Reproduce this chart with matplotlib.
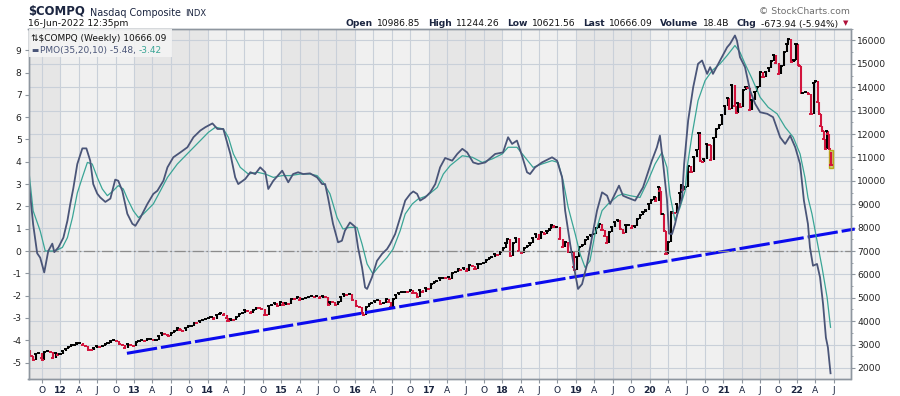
import matplotlib
matplotlib.use('Agg')
import matplotlib.pyplot as plt
from matplotlib.patches import Rectangle
from matplotlib.text import Annotation
from matplotlib.ticker import MultipleLocator
import pandas as pd

plt.rcParams['font.family'] = 'DejaVu Sans'
plt.rcParams['axes.unicode_minus'] = False

# ---- data ----
# weekly-ish closes of $COMPQ (right axis)
price_dates = [
    '2011-07-29', '2011-08-05', '2011-08-12', '2011-08-19', '2011-08-31', '2011-09-16', '2011-09-30', '2011-10-03',
    '2011-10-14', '2011-10-28', '2011-11-11', '2011-11-25', '2011-12-09', '2011-12-16', '2011-12-30',
    '2012-01-13', '2012-01-27', '2012-02-10', '2012-02-24', '2012-03-09', '2012-03-23', '2012-04-05', '2012-04-20',
    '2012-05-04', '2012-05-18', '2012-06-01', '2012-06-15', '2012-06-29', '2012-07-13', '2012-07-27', '2012-08-10',
    '2012-08-24', '2012-09-07', '2012-09-21', '2012-10-05', '2012-10-19', '2012-11-02', '2012-11-16', '2012-11-30',
    '2012-12-14', '2012-12-28',
    '2013-01-11', '2013-01-25', '2013-02-08', '2013-02-22', '2013-03-08', '2013-03-22', '2013-04-05', '2013-04-19',
    '2013-05-03', '2013-05-17', '2013-05-31', '2013-06-14', '2013-06-21', '2013-07-05', '2013-07-19', '2013-08-02',
    '2013-08-16', '2013-08-30', '2013-09-13', '2013-09-27', '2013-10-11', '2013-10-25', '2013-11-08', '2013-11-22',
    '2013-12-06', '2013-12-20',
    '2014-01-03', '2014-01-17', '2014-01-31', '2014-02-14', '2014-02-28', '2014-03-07', '2014-03-21', '2014-04-04',
    '2014-04-11', '2014-04-25', '2014-05-09', '2014-05-23', '2014-06-06', '2014-06-20', '2014-07-03', '2014-07-18',
    '2014-08-01', '2014-08-15', '2014-08-29', '2014-09-12', '2014-09-26', '2014-10-10', '2014-10-17', '2014-10-31',
    '2014-11-14', '2014-11-28', '2014-12-12', '2014-12-26',
    '2015-01-09', '2015-01-23', '2015-02-06', '2015-02-20', '2015-03-06', '2015-03-20', '2015-04-02', '2015-04-17',
    '2015-05-01', '2015-05-15', '2015-05-29', '2015-06-12', '2015-06-26', '2015-07-10', '2015-07-24', '2015-08-07',
    '2015-08-21', '2015-08-28', '2015-09-11', '2015-09-25', '2015-10-09', '2015-10-23', '2015-11-06', '2015-11-20',
    '2015-12-04', '2015-12-18',
    '2016-01-08', '2016-01-22', '2016-02-05', '2016-02-11', '2016-02-26', '2016-03-11', '2016-03-24', '2016-04-08',
    '2016-04-22', '2016-05-06', '2016-05-20', '2016-06-03', '2016-06-17', '2016-06-27', '2016-07-08', '2016-07-22',
    '2016-08-05', '2016-08-19', '2016-09-02', '2016-09-16', '2016-09-30', '2016-10-14', '2016-10-28', '2016-11-04',
    '2016-11-18', '2016-12-02', '2016-12-16', '2016-12-30',
    '2017-01-13', '2017-01-27', '2017-02-10', '2017-02-24', '2017-03-10', '2017-03-24', '2017-04-07', '2017-04-13',
    '2017-04-28', '2017-05-12', '2017-05-26', '2017-06-09', '2017-06-23', '2017-07-07', '2017-07-21', '2017-08-04',
    '2017-08-18', '2017-09-01', '2017-09-15', '2017-09-29', '2017-10-13', '2017-10-27', '2017-11-10', '2017-11-24',
    '2017-12-08', '2017-12-22',
    '2018-01-05', '2018-01-19', '2018-01-26', '2018-02-08', '2018-02-23', '2018-03-09', '2018-03-23', '2018-04-06',
    '2018-04-20', '2018-05-04', '2018-05-18', '2018-06-01', '2018-06-15', '2018-06-29', '2018-07-13', '2018-07-27',
    '2018-08-10', '2018-08-24', '2018-08-31', '2018-09-14', '2018-09-28', '2018-10-12', '2018-10-26', '2018-11-09',
    '2018-11-23', '2018-12-07', '2018-12-21', '2018-12-24',
    '2019-01-04', '2019-01-18', '2019-02-01', '2019-02-15', '2019-03-01', '2019-03-15', '2019-03-29', '2019-04-12',
    '2019-04-26', '2019-05-10', '2019-05-24', '2019-06-03', '2019-06-14', '2019-06-28', '2019-07-12', '2019-07-26',
    '2019-08-09', '2019-08-23', '2019-09-06', '2019-09-20', '2019-10-04', '2019-10-18', '2019-11-01', '2019-11-15',
    '2019-11-29', '2019-12-13', '2019-12-27',
    '2020-01-10', '2020-01-24', '2020-01-31', '2020-02-14', '2020-02-21', '2020-02-28', '2020-03-06', '2020-03-13',
    '2020-03-20', '2020-03-23', '2020-04-03', '2020-04-17', '2020-05-01', '2020-05-15', '2020-05-29', '2020-06-05',
    '2020-06-12', '2020-06-26', '2020-07-10', '2020-07-24', '2020-08-07', '2020-08-21', '2020-09-02', '2020-09-08',
    '2020-09-18', '2020-09-25', '2020-10-09', '2020-10-23', '2020-10-30', '2020-11-13', '2020-11-27', '2020-12-11',
    '2020-12-24',
    '2021-01-08', '2021-01-22', '2021-01-29', '2021-02-12', '2021-02-26', '2021-03-05', '2021-03-12', '2021-03-26',
    '2021-04-09', '2021-04-23', '2021-04-30', '2021-05-12', '2021-05-21', '2021-06-04', '2021-06-18', '2021-07-02',
    '2021-07-16', '2021-07-30', '2021-08-13', '2021-08-27', '2021-09-07', '2021-09-17', '2021-10-01', '2021-10-15',
    '2021-10-29', '2021-11-12', '2021-11-19', '2021-12-03', '2021-12-17', '2021-12-27',
    '2022-01-07', '2022-01-14', '2022-01-21', '2022-01-28', '2022-02-11', '2022-02-25', '2022-03-11', '2022-03-25',
    '2022-04-01', '2022-04-14', '2022-04-22', '2022-04-29', '2022-05-06', '2022-05-13', '2022-05-20', '2022-05-27',
    '2022-06-03', '2022-06-10',
]
price_close = [
    2756, 2532, 2508, 2342, 2579, 2622, 2415, 2335, 2668, 2737, 2678, 2441, 2646, 2555, 2605,
    2710, 2816, 2904, 2963, 2988, 3068, 3080, 3000, 2956, 2779, 2747, 2872, 2935, 2908, 2958, 3020,
    3069, 3136, 3180, 3136, 3005, 2982, 2853, 3010, 2971, 2960,
    3125, 3150, 3193, 3161, 3245, 3245, 3204, 3206, 3378, 3498, 3456, 3423, 3357, 3479, 3588, 3690,
    3602, 3590, 3722, 3781, 3792, 3943, 3919, 3992, 4062, 4104,
    4131, 4197, 4104, 4244, 4308, 4336, 4276, 4128, 3999, 4076, 4071, 4185, 4321, 4368, 4486, 4432,
    4352, 4464, 4580, 4567, 4512, 4276, 4258, 4631, 4688, 4792, 4653, 4807,
    4704, 4758, 4745, 4956, 4927, 5026, 4886, 4932, 5005, 5048, 5070, 5052, 5080, 4998, 5089, 5044,
    4706, 4828, 4822, 4687, 4830, 5032, 5147, 5105, 5142, 4923,
    4643, 4592, 4363, 4267, 4590, 4749, 4774, 4850, 4906, 4737, 4770, 4943, 4800, 4594, 4956, 5100,
    5221, 5238, 5250, 5245, 5312, 5214, 5190, 5046, 5322, 5256, 5437, 5383,
    5574, 5661, 5735, 5845, 5861, 5828, 5878, 5805, 6048, 6121, 6210, 6208, 6265, 6153, 6388, 6352,
    6217, 6435, 6448, 6496, 6606, 6701, 6751, 6889, 6840, 6959,
    7136, 7336, 7506, 6777, 7337, 7560, 6993, 6915, 7146, 7209, 7354, 7554, 7746, 7510, 7826, 7737,
    7839, 7946, 8110, 8010, 8046, 7497, 7167, 7406, 6939, 6969, 6333, 6193,
    6739, 7157, 7264, 7472, 7595, 7688, 7729, 7984, 8146, 7917, 7637, 7333, 7797, 8006, 8244, 8330,
    7959, 7752, 8103, 8118, 7982, 8089, 8386, 8541, 8665, 8735, 9007,
    9179, 9315, 9151, 9731, 9577, 8567, 8576, 7875, 6880, 6861, 7374, 8650, 8605, 9015, 9490, 9815,
    9589, 9757, 10617, 10363, 11011, 11312, 12056, 10848, 10793, 10914, 11580, 11548, 10912, 11829, 12206, 12378,
    12805,
    13202, 13543, 13070, 14095, 13192, 12920, 13320, 13139, 13900, 14017, 13962, 13032, 13471, 13814, 14030, 14639,
    14428, 14673, 14823, 15129, 15374, 15044, 14567, 14897, 15498, 15860, 16057, 15085, 15170, 15871,
    14936, 14894, 13768, 13770, 13791, 13694, 12843, 14169, 14262, 13351, 12839, 12335, 12145, 11805, 11354, 12131,
    12013, 11340,
]

# current (last) weekly bar from the header
last_date = '2022-06-16'
last_open, last_high, last_low, last_close = 10986.85, 11244.26, 10621.56, 10666.09

# PMO(35,20,10) line and its signal line (left axis)
pmo_dates = [
    '2011-07-30', '2011-08-19', '2011-09-08', '2011-09-23', '2011-10-13', '2011-11-02', '2011-11-22', '2011-12-02', '2011-12-22',
    '2012-01-16', '2012-02-05', '2012-02-19', '2012-03-05', '2012-03-25', '2012-04-19', '2012-05-09', '2012-05-28', '2012-06-12',
    '2012-07-02', '2012-07-17', '2012-08-11', '2012-09-05', '2012-09-29', '2012-10-14', '2012-11-03', '2012-11-28', '2012-12-23',
    '2013-01-07', '2013-02-01', '2013-03-07', '2013-04-06', '2013-04-26', '2013-05-26', '2013-06-15', '2013-07-14', '2013-08-18',
    '2013-09-22', '2013-10-22', '2013-11-25', '2013-12-20',
    '2014-01-24', '2014-02-18', '2014-03-19', '2014-04-23', '2014-05-17', '2014-06-01', '2014-07-06', '2014-07-31', '2014-08-24',
    '2014-09-18', '2014-10-13', '2014-10-28', '2014-11-22',
    '2015-01-05', '2015-02-04', '2015-02-28', '2015-03-25', '2015-04-19', '2015-05-23', '2015-06-27', '2015-07-22', '2015-08-06',
    '2015-08-20', '2015-09-14', '2015-10-09', '2015-10-28', '2015-11-12', '2015-12-07',
    '2016-01-01', '2016-01-16', '2016-02-05', '2016-02-20', '2016-03-01', '2016-03-25', '2016-04-19', '2016-05-14', '2016-06-08',
    '2016-06-23', '2016-07-18', '2016-08-12', '2016-09-06', '2016-10-01', '2016-10-16', '2016-11-04', '2016-11-19', '2016-12-14',
    '2017-01-08', '2017-02-02', '2017-02-26', '2017-03-23', '2017-04-27', '2017-05-22', '2017-06-16', '2017-07-10', '2017-08-09',
    '2017-09-03', '2017-10-08', '2017-11-26',
    '2018-01-04', '2018-01-29', '2018-02-18', '2018-03-14', '2018-04-08', '2018-05-03', '2018-05-18', '2018-06-12', '2018-07-16',
    '2018-09-04', '2018-09-29', '2018-10-24', '2018-11-08', '2018-12-03', '2018-12-28',
    '2019-01-11', '2019-01-31', '2019-02-25', '2019-03-21', '2019-04-15', '2019-05-10', '2019-06-04', '2019-06-19', '2019-07-13',
    '2019-08-02', '2019-08-22', '2019-09-11', '2019-10-21', '2019-11-29',
    '2020-01-12', '2020-02-06', '2020-02-21', '2020-03-07', '2020-03-27', '2020-04-06', '2020-04-21', '2020-05-06', '2020-05-21',
    '2020-06-10', '2020-06-20', '2020-07-10', '2020-08-04', '2020-08-28', '2020-09-17', '2020-10-12', '2020-10-27', '2020-11-10',
    '2020-12-15',
    '2021-01-19', '2021-02-03', '2021-02-27', '2021-03-09', '2021-03-24', '2021-04-18', '2021-05-13', '2021-06-07', '2021-07-02',
    '2021-08-06', '2021-09-04', '2021-10-09', '2021-11-03', '2021-11-28', '2021-12-23',
    '2022-01-16', '2022-02-04', '2022-02-24', '2022-03-06', '2022-03-21', '2022-04-10', '2022-04-25', '2022-05-10', '2022-05-24',
    '2022-06-03', '2022-06-16',
]
pmo_vals = [
    3.0, 1.2, -0.1, -0.3, -0.96, 0.0, 0.33, -0.05, 0.16,
    0.6, 1.36, 2.1, 2.8, 3.9, 4.6, 4.6, 4.05, 3.0,
    2.57, 2.4, 2.2, 2.35, 3.2, 3.15, 2.7, 1.67, 1.22,
    1.13, 1.5, 2.1, 2.56, 2.7, 3.15, 3.75, 4.2, 4.42,
    4.65, 5.1, 5.4, 5.55,
    5.72, 5.47, 5.47, 4.35, 3.3, 3.0, 3.23, 3.53, 3.45,
    3.75, 3.53, 2.78, 3.15,
    3.6, 3.08, 3.45, 3.53, 3.45, 3.48, 3.3, 3.0, 3.0,
    2.4, 1.22, 0.39, 0.46, 0.91, 1.28,
    1.09, 0.16, -0.74, -1.63, -1.7, -1.18, -0.44, -0.13, 0.09,
    0.31, 0.76, 1.5, 2.26, 2.56, 2.67, 2.56, 2.26, 2.4,
    2.63, 3.0, 3.75, 4.17, 4.05, 4.35, 4.58, 4.42, 3.97,
    3.9, 3.97, 4.35,
    4.42, 5.1, 4.8, 4.95, 4.27, 3.53, 3.45, 3.75, 3.97,
    4.2, 4.05, 3.3, 1.81, 0.31, -1.03,
    -1.7, -1.48, -0.58, 0.61, 1.81, 2.63, 2.48, 2.11, 2.56,
    2.93, 2.48, 2.4, 2.26, 2.85,
    4.05, 4.65, 5.17, 4.0, 2.3, 0.78, 0.76, 1.21, 1.81,
    2.4, 3.9, 5.85, 7.34, 8.39, 8.54, 7.94, 8.24, 7.94,
    8.54,
    9.13, 9.29, 9.66, 9.43, 8.69, 8.24, 7.19, 6.6, 6.22,
    6.15, 6.0, 5.1, 4.8, 5.17, 4.65,
    3.9, 2.26, 1.21, 0.16, -0.66, -0.58, -1.18, -2.38, -3.88,
    -4.32, -5.48,
]
signal_dates = [
    '2011-07-30', '2011-08-19', '2011-09-23', '2011-10-18', '2011-11-22', '2011-12-17',
    '2012-01-11', '2012-02-05', '2012-03-01', '2012-03-25', '2012-04-19', '2012-05-14', '2012-06-07', '2012-07-02',
    '2012-07-27', '2012-08-21', '2012-09-19', '2012-10-14', '2012-11-08', '2012-11-28', '2012-12-28',
    '2013-01-22', '2013-02-16', '2013-04-06', '2013-05-11', '2013-06-15', '2013-08-03', '2013-10-07', '2013-11-25',
    '2014-01-04', '2014-02-08', '2014-03-19', '2014-04-13', '2014-05-08', '2014-06-11', '2014-07-21', '2014-09-04',
    '2014-10-13', '2014-11-22',
    '2015-01-05', '2015-02-14', '2015-04-04', '2015-05-23', '2015-06-27', '2015-07-27', '2015-08-30', '2015-10-04',
    '2015-11-02', '2015-12-07',
    '2016-01-11', '2016-02-05', '2016-03-01', '2016-03-30', '2016-04-24', '2016-06-08', '2016-07-08', '2016-08-12',
    '2016-09-06', '2016-10-11', '2016-11-09', '2016-12-24',
    '2017-02-12', '2017-03-14', '2017-04-17', '2017-06-16', '2017-08-05', '2017-09-23', '2017-11-12', '2017-12-31',
    '2018-01-29', '2018-03-14', '2018-04-23', '2018-06-02', '2018-07-16', '2018-09-04', '2018-10-04', '2018-10-29',
    '2018-11-23', '2018-12-28',
    '2019-01-21', '2019-02-15', '2019-03-11', '2019-04-05', '2019-05-10', '2019-06-09', '2019-07-28', '2019-08-22',
    '2019-09-26', '2019-11-14', '2019-12-24',
    '2020-01-28', '2020-03-02', '2020-03-27', '2020-04-11', '2020-05-06', '2020-05-31', '2020-06-25', '2020-07-05',
    '2020-07-30', '2020-08-28', '2020-10-02', '2020-11-06', '2020-12-15',
    '2021-01-19', '2021-02-27', '2021-03-24', '2021-04-18', '2021-05-23', '2021-07-02', '2021-08-11', '2021-09-24',
    '2021-11-03', '2021-12-13',
    '2022-01-16', '2022-02-09', '2022-02-24', '2022-03-16', '2022-04-10', '2022-05-05', '2022-05-30', '2022-06-16',
]
signal_vals = [
    3.5, 1.8, 0.9, 0.0, 0.0, 0.05,
    0.16, 0.6, 1.5, 2.6, 3.3, 3.97, 3.9, 3.3,
    2.78, 2.48, 2.7, 2.93, 2.78, 2.35, 1.8,
    1.5, 1.66, 2.11, 2.7, 3.3, 3.9, 4.5, 4.95,
    5.32, 5.55, 5.47, 5.1, 4.35, 3.75, 3.45, 3.53,
    3.45, 3.3,
    3.38, 3.38, 3.45, 3.45, 3.38, 3.08, 2.56, 1.5,
    0.99, 1.06,
    1.06, 0.31, -0.58, -1.03, -0.74, -0.29, 0.09, 0.91,
    1.66, 2.11, 2.33, 2.48,
    2.85, 3.45, 3.83, 4.27, 4.2, 3.97, 4.13, 4.35,
    4.65, 4.65, 4.2, 3.75, 3.9, 4.05, 3.97, 3.15,
    1.96, 0.76,
    -0.13, -0.74, -0.44, 0.76, 1.81, 2.11, 2.48, 2.56,
    2.48, 2.4, 3.15,
    3.9, 4.42, 3.75, 2.5, 1.36, 1.96, 2.7, 3.75,
    5.25, 6.74, 7.64, 8.09, 8.39,
    8.76, 9.21, 8.91, 8.39, 7.72, 6.89, 6.44, 6.15,
    5.55, 5.1,
    4.35, 3.3, 2.4, 1.66, 0.46, -0.74, -2.08, -3.42,
]

# hand-drawn trend line under the price lows
trend_dates = ['2012-11-26', '2022-10-14']
trend_vals = [2626, 7940]

# header texts
header_labels = ['Open', 'High', 'Low', 'Last', 'Volume', 'Chg']
header_values = ['10986.85', '11244.26', '10621.56', '10666.09', '18.4B', '-673.94 (-5.94%)']

# ---- colours ----
BG_LIGHT = '#F0F0F0'
BG_DARK = '#E6E6E6'
GRID = '#C9D0D9'
SPINE = '#8E969F'
UP = '#000000'
DOWN = '#D2143C'
PMO_C = '#4A5578'
SIG_C = '#3AA596'
NAVY = '#1B2540'

W, H = 900, 396
fig = plt.figure(figsize=(9, 3.96), dpi=100)
L, R, T, B = 28.5, 850.5, 28.8, 379.3
ax = fig.add_axes([L / W, 1 - B / H, (R - L) / W, (B - T) / H])
ax2 = ax.twinx()

pd_dates = pd.to_datetime(price_dates)
x0, x1 = pd.Timestamp('2011-07-27'), pd.Timestamp('2022-09-23')
ax.set_xlim(x0, x1)
ax.set_facecolor(BG_LIGHT)

# alternating year shading
for yr in range(2011, 2023):
    if yr % 2 == 1:
        ax.axvspan(pd.Timestamp(f'{yr}-01-01'), pd.Timestamp(f'{yr + 1}-01-01'),
                   color=BG_DARK, lw=0, zorder=0)

# price bars (close to close) on the main axes, right side scale
bar_x = pd_dates[1:]
bar_lo = [min(a, b) for a, b in zip(price_close[:-1], price_close[1:])]
bar_hi = [max(a, b) for a, b in zip(price_close[:-1], price_close[1:])]
bar_col = [UP if b >= a else DOWN for a, b in zip(price_close[:-1], price_close[1:])]
ax.vlines(bar_x, bar_lo, bar_hi, colors=bar_col, lw=1.5, zorder=3)
ax.scatter(bar_x, price_close[1:], marker='_', s=5, linewidths=1.4, c=bar_col, zorder=3)

# last bar with highlight box
ld = pd.Timestamp(last_date)
ax.add_patch(Rectangle((ld - pd.Timedelta(days=10), last_low - 60), pd.Timedelta(days=20),
                       last_high - last_low + 120, facecolor='#C9C46A', edgecolor='#B3A300',
                       lw=1.0, alpha=0.85, zorder=3.5))
ax.vlines([ld], [last_low], [last_high], colors=DOWN, lw=1.6, zorder=4)
ax.scatter([ld], [last_close], marker='_', s=5, linewidths=1.4, c=DOWN, zorder=4)

ax.plot(pd.to_datetime(trend_dates), trend_vals, color='#0B0BEE', lw=2.2, dashes=(10, 1.3),
        clip_on=False, zorder=5)

ax.set_ylim(1515, 16500)
ax.yaxis.tick_right()
ax.set_yticks(range(2000, 17000, 1000))
ax.yaxis.set_minor_locator(MultipleLocator(500))
ax.grid(True, which='major', color=GRID, lw=0.8)
ax.set_axisbelow(True)

# PMO on the twin axes, left side scale
ax2.axhline(0, color='#8C8C8C', lw=0.9, ls=(0, (9, 2, 1.5, 2)), zorder=1)
ax2.plot(pd.to_datetime(signal_dates), signal_vals, color=SIG_C, lw=0.9, zorder=2)
ax2.plot(pd.to_datetime(pmo_dates), pmo_vals, color=PMO_C, lw=1.3, zorder=2)
ax2.set_ylim(-5.75, 9.96)
ax2.yaxis.tick_left()
ax2.set_yticks(range(-5, 10))

# x ticks at each quarter
qt = pd.date_range('2011-10-01', '2022-07-01', freq='QS')
month_letter = {4: 'A', 7: 'J', 10: 'O'}
qlabels = [f'{d.year % 100:02d}' if d.month == 1 else month_letter[d.month] for d in qt]
ax.set_xticks(qt)
ax.set_xticklabels(qlabels)
for lbl, d in zip(ax.get_xticklabels(), qt):
    if d.month == 1:
        lbl.set_fontweight('bold')
        lbl.set_fontsize(7.2)

ax.tick_params(axis='x', length=3, color=SPINE, labelsize=6.6, labelcolor=NAVY, pad=2)
ax.tick_params(axis='y', which='major', length=3, color=SPINE, labelsize=6.6, labelcolor='#222222', pad=2)
ax.tick_params(axis='y', which='minor', length=1.5, color=SPINE)
ax2.tick_params(axis='y', length=3, color=SPINE, labelsize=6.6, labelcolor='#222222', pad=2)
for a in (ax, ax2):
    for sp in a.spines.values():
        sp.set_color(SPINE)
        sp.set_linewidth(1.0)


# ---- header ----
def fy(py):
    return 1 - py / H


def chain(text, prev, dx, anchor=(1, 0), **kw):
    # place a text right after (or before) another text artist, at figure level
    a = Annotation(text, xy=anchor, xycoords=prev, xytext=(dx, 0), textcoords='offset points',
                   va='bottom', annotation_clip=False, **kw)
    fig.add_artist(a)
    return a


t = fig.text(28 / W, fy(14.5), '$COMPQ', fontsize=8.4, fontweight='bold', color=NAVY, va='baseline')
t = chain('Nasdaq Composite', t, 3.5, fontsize=6.9, color=NAVY)
chain('INDX', t, 3.5, fontsize=6.0, color=NAVY)
fig.text(28 / W, fy(26.5), '16-Jun-2022 12:35pm', fontsize=6.6, color='#111111', va='baseline')
fig.text(850 / W, fy(13.5), '\u00a9 StockCharts.com', fontsize=6.7, color='#6E6E6E', ha='right', va='baseline')

# right header chain, built from the right end
prev = fig.text(838 / W, fy(26.5), header_values[-1], fontsize=6.6, color='#111111', ha='right', va='baseline')
fig.text(846 / W, fy(25.5), '\u25bc', fontsize=5, color='#B0103A', ha='center', va='baseline')
prev = chain(header_labels[-1], prev, -3, anchor=(0, 0), fontsize=6.6, fontweight='bold', color=NAVY, ha='right')
for lab, val in zip(reversed(header_labels[:-1]), reversed(header_values[:-1])):
    prev = chain(val, prev, -5.5, anchor=(0, 0), fontsize=6.6, color='#111111', ha='right')
    prev = chain(lab, prev, -3, anchor=(0, 0), fontsize=6.6, fontweight='bold', color=NAVY, ha='right')

# legend box in the top-left corner
fig.add_artist(Rectangle((29 / W, fy(57)), (172 - 29) / W, 28 / H, transform=fig.transFigure,
                         facecolor='#F4F4F4', edgecolor='none', alpha=0.9, zorder=2))
fig.text(31 / W, fy(41), '\u21c5$COMPQ (Weekly) 10666.09', fontsize=6.5, color='#111111', va='baseline')
t = fig.text(31 / W, fy(53), '\u25ac', fontsize=5.5, color=PMO_C, va='baseline')
t = chain('PMO(35,20,10) -5.48,', t, 1, fontsize=6.5, color=PMO_C)
chain('-3.42', t, 2.5, fontsize=6.5, color=SIG_C)

fig.savefig('out.png', dpi=100)
